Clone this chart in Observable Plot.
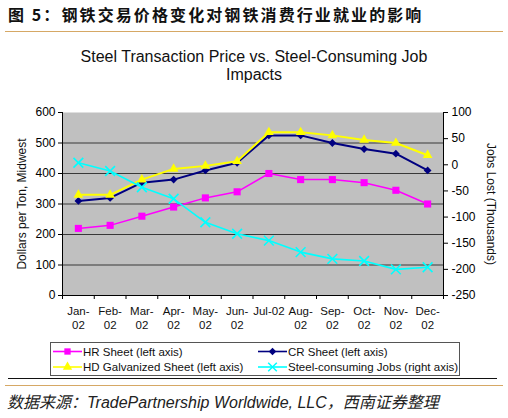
<!DOCTYPE html>
<html><head><meta charset="utf-8">
<script src="https://cdn.jsdelivr.net/npm/d3@7"></script>
<script src="https://cdn.jsdelivr.net/npm/@observablehq/plot@0.6"></script>
<style>
html,body{margin:0;padding:0;background:#fff;}
#page{position:relative;width:508px;height:418px;overflow:hidden;font-family:"Liberation Sans",Arial,sans-serif;color:#111;}
#head{position:absolute;left:8px;top:4px;font-family:"Noto Sans CJK SC",sans-serif;font-weight:bold;font-size:16px;line-height:20px;letter-spacing:2.1px;white-space:nowrap;color:#111;}
.orule{position:absolute;left:5px;width:498px;height:0;border-top:1.5px solid #d6a865;}
.brule{position:absolute;left:8px;width:489px;height:0;border-top:1px solid #111;}
#ctitle{position:absolute;left:0;width:508px;top:48px;text-align:center;font-size:16px;line-height:18px;color:#111;}
#chart{position:absolute;left:0;top:100px;}
#legend{position:absolute;left:50px;top:342px;}
#foot{position:absolute;left:7px;top:393px;font-size:16px;line-height:20px;font-style:italic;white-space:nowrap;color:#222;font-family:"Liberation Sans","Noto Sans CJK SC",sans-serif;letter-spacing:0px;}
</style></head>
<body><div id="page">
<div id="head">图 5：钢铁交易价格变化对钢铁消费行业就业的影响</div>
<div class="orule" style="top:31px"></div>
<div id="ctitle">Steel Transaction Price vs. Steel-Consuming Job<br>Impacts</div>
<div id="chart"></div>
<div id="legend"></div>
<div class="brule" style="top:378px"></div>
<div class="orule" style="top:385px"></div>
<div id="foot">数据来源：TradePartnership Worldwide, LLC，西南证券整理</div>
</div>
<script>
const months = ["Jan-\n02","Feb-\n02","Mar-\n02","Apr-\n02","May-\n02","Jun-\n02","Jul-02","Aug-\n02","Sep-\n02","Oct-\n02","Nov-\n02","Dec-\n02"];
const hrSheet = [220,230,260,290,320,340,400,380,380,370,345,300];
const crSheet = [310,320,370,380,410,435,525,525,500,480,465,410];
const hdGalv  = [330,330,380,415,425,440,535,535,525,510,500,460];
const jobs    = [4,-12,-43,-65,-110,-132,-145,-167,-180,-184,-200,-196];
const leftTicks  = [0,100,200,300,400,500,600];
const rightTicks = [100,50,0,-50,-100,-150,-200,-250];
const seriesNames = ["HR Sheet (left axis)","CR Sheet (left axis)","HD Galvanized Sheet (left axis)","Steel-consuming Jobs (right axis)"];

const n = months.length;
const leftMin = d3.min(leftTicks), leftMax = d3.max(leftTicks);
const rMin = d3.min(rightTicks), rMax = d3.max(rightTicks);
const toLeft = v => leftMin + (v - rMin) * (leftMax - leftMin) / (rMax - rMin);
const fromLeft = v => rMin + (v - leftMin) * (rMax - rMin) / (leftMax - leftMin);
const rows = months.map((m, i) => ({i, hr: hrSheet[i], cr: crSheet[i], hd: hdGalv[i], jobs: toLeft(jobs[i])}));
const bounds = d3.range(n + 1).map(k => k - 0.5);

const C = {hr:"#ff00ff", cr:"#000080", hd:"#ffff00", jobs:"#00ffff"};

const chart = Plot.plot({
  width: 508, height: 235,
  marginLeft: 62, marginRight: 65, marginTop: 12, marginBottom: 40,
  style: {fontFamily: "Liberation Sans, Arial, sans-serif", fontSize: "12px", color: "#000", background: "transparent", overflow: "visible"},
  x: {domain: [-0.5, n - 0.5]},
  y: {domain: [leftMin, leftMax]},
  marks: [
    Plot.frame({fill: "#c0c0c0", stroke: "none"}),
    Plot.ruleY(leftTicks.filter(v => v > leftMin && v < leftMax), {stroke: "#383838", strokeWidth: 1.2}),
    Plot.axisY({ticks: leftTicks, tickSize: 4, tickPadding: 3, label: null, fontSize: 12}),
    Plot.axisY({anchor: "right", ticks: rightTicks.map(toLeft), tickFormat: v => String(Math.round(fromLeft(v))), tickSize: 4, tickPadding: 4, label: null, fontSize: 12}),
    Plot.axisX({ticks: bounds, tickSize: 4, tickFormat: () => "", label: null}),
    Plot.ruleY([leftMin], {stroke: "#000"}),
    Plot.ruleX([-0.5, n - 0.5], {stroke: "#000"}),
    Plot.text(months, {x: (d, i) => i, frameAnchor: "bottom", dy: 9, lineAnchor: "top", lineHeight: 1.25, fontSize: 11.5, fill: "#111"}),
    Plot.line(rows, {x: "i", y: "hr", stroke: C.hr, strokeWidth: 1.5}),
    Plot.dot(rows, {x: "i", y: "hr", symbol: "square", r: 4, fill: C.hr, stroke: "none"}),
    Plot.line(rows, {x: "i", y: "cr", stroke: C.cr, strokeWidth: 2}),
    Plot.dot(rows, {x: "i", y: "cr", symbol: "square", rotate: 45, r: 3.1, fill: C.cr, stroke: "none"}),
    Plot.line(rows, {x: "i", y: "hd", stroke: C.hd, strokeWidth: 2}),
    Plot.dot(rows, {x: "i", y: "hd", symbol: "triangle", r: 3.6, fill: C.hd, stroke: "none"}),
    Plot.line(rows, {x: "i", y: "jobs", stroke: C.jobs, strokeWidth: 1.6}),
    Plot.dot(rows, {x: "i", y: "jobs", symbol: "times", r: 4.5, stroke: C.jobs, strokeWidth: 1.6}),
    Plot.text(["Dollars per Ton, Midwest"], {frameAnchor: "left", textAnchor: "middle", dx: -40, rotate: -90, fontSize: 12, fill: "#111"}),
    Plot.text(["Jobs Lost (Thousands)"], {frameAnchor: "right", textAnchor: "middle", dx: 47, rotate: 90, fontSize: 12, fill: "#111"})
  ]
});
document.getElementById("chart").appendChild(chart);

// legend
const lg = d3.select("#legend").append("svg").attr("width", 410).attr("height", 34)
  .style("font-family", "Liberation Sans, Arial, sans-serif").style("font-size", "11.5px");
lg.append("rect").attr("x", 0.5).attr("y", 0.5).attr("width", 409).attr("height", 33)
  .attr("fill", "#fff").attr("stroke", "#555").attr("stroke-width", 1);
const items = [
  {name: seriesNames[0], color: C.hr, sym: d3.symbolSquare, size: 40, rot: 0, fill: true, cx: 3, cy: 9.5},
  {name: seriesNames[1], color: C.cr, sym: d3.symbolSquare, size: 28, rot: 45, fill: true, cx: 208, cy: 9.5},
  {name: seriesNames[2], color: C.hd, sym: d3.symbolTriangle, size: 38, rot: 0, fill: true, cx: 3, cy: 25},
  {name: seriesNames[3], color: C.jobs, sym: d3.symbolTimes, size: 50, rot: 0, fill: false, cx: 208, cy: 25}
];
items.forEach(it => {
  const g = lg.append("g").attr("transform", `translate(${it.cx},${it.cy})`);
  g.append("line").attr("x1", 0).attr("x2", 29).attr("stroke", it.color).attr("stroke-width", 1.6);
  g.append("path").attr("d", d3.symbol(it.sym, it.size)())
    .attr("transform", `translate(14.5,0) rotate(${it.rot})`)
    .attr("fill", it.fill ? it.color : "none").attr("stroke", it.fill ? "none" : it.color).attr("stroke-width", 1.5);
  g.append("text").attr("x", 30).attr("dy", "0.35em").attr("fill", "#111").text(it.name);
});
</script>
</body></html>
